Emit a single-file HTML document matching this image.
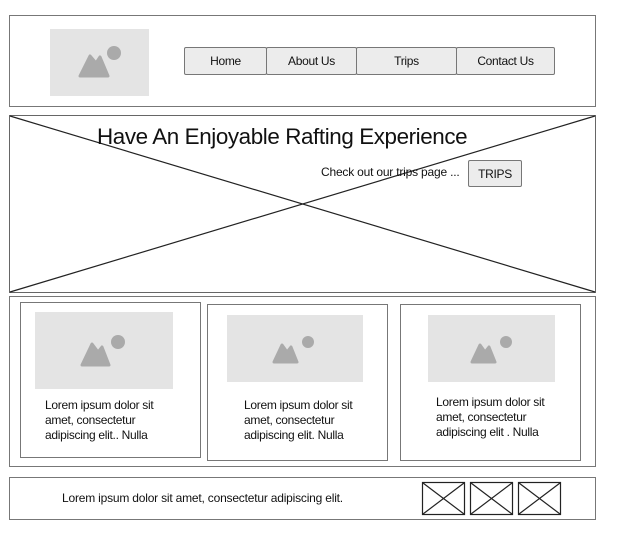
<!DOCTYPE html>
<html><head><meta charset="utf-8"><style>
body{margin:0;width:631px;height:537px;background:#fff;position:relative;overflow:hidden;font-family:"Liberation Sans",Arial,sans-serif;color:#111}
.a{position:absolute;box-sizing:border-box}
.box{border:1px solid #777;background:#fff}
.btn{border:1px solid #777;border-radius:2px;background:#ececec;font-size:12px;text-align:center;line-height:26px;letter-spacing:-0.3px}
.img{background:#e4e4e4}
.t{font-size:12px;line-height:15px;letter-spacing:-0.3px}
</style></head><body>
<div class="a box" style="left:9px;top:15px;width:587px;height:92px"></div>
<div class="a img" style="left:50px;top:29px;width:99px;height:67px">
<svg width="99" height="67" style="position:absolute;left:0;top:0"><path d="M30 47 L40 27 L46 34 L50 28 L58 47 Z" fill="#aaa" stroke="#aaa" stroke-linejoin="round" stroke-width="3"/><circle cx="64" cy="24" r="7" fill="#aaa"/></svg></div>
<div class="a btn" style="left:184px;top:47px;width:83px;height:28px">Home</div>
<div class="a btn" style="left:266px;top:47px;width:91px;height:28px">About Us</div>
<div class="a btn" style="left:356px;top:47px;width:101px;height:28px">Trips</div>
<div class="a btn" style="left:456px;top:47px;width:99px;height:28px">Contact Us</div>

<div class="a box" style="left:9px;top:115px;width:587px;height:178px;border-color:#666"></div>

<div class="a box" style="left:9px;top:296px;width:587px;height:171px"></div>
<div class="a box" style="left:20px;top:302px;width:181px;height:156px"></div>
<div class="a img" style="left:35px;top:312px;width:138px;height:77px"><svg width="138" height="77"><path d="M47 53 L57 32 L63 40 L67 35 L74 53 Z" fill="#aaa" stroke="#aaa" stroke-linejoin="round" stroke-width="3"/><circle cx="83" cy="30" r="7" fill="#aaa"/></svg></div>
<div class="a t" style="left:45px;top:398px">Lorem ipsum dolor sit<br>amet, consectetur<br>adipiscing elit.. Nulla</div>
<div class="a box" style="left:207px;top:304px;width:181px;height:157px"></div>
<div class="a img" style="left:227px;top:315px;width:136px;height:67px"><svg width="136" height="67"><path d="M47 47 L55 30 L60 37 L64 32 L70 47 Z" fill="#aaa" stroke="#aaa" stroke-linejoin="round" stroke-width="3"/><circle cx="81" cy="27" r="6" fill="#aaa"/></svg></div>
<div class="a t" style="left:244px;top:398px">Lorem ipsum dolor sit<br>amet, consectetur<br>adipiscing elit. Nulla</div>
<div class="a box" style="left:400px;top:304px;width:181px;height:157px"></div>
<div class="a img" style="left:428px;top:315px;width:127px;height:67px"><svg width="127" height="67"><path d="M44 47 L52 30 L57 37 L61 32 L67 47 Z" fill="#aaa" stroke="#aaa" stroke-linejoin="round" stroke-width="3"/><circle cx="78" cy="27" r="6" fill="#aaa"/></svg></div>
<div class="a t" style="left:436px;top:395px">Lorem ipsum  dolor sit<br>amet, consectetur<br>adipiscing elit . Nulla</div>

<div class="a box" style="left:9px;top:477px;width:587px;height:43px"></div>
<div class="a t" style="left:62px;top:491px;font-size:12px;letter-spacing:-0.2px;white-space:nowrap">Lorem ipsum dolor sit amet, consectetur adipiscing elit.</div>

<svg class="a" style="left:0;top:0" width="631" height="537"><line x1="10" y1="116" x2="595" y2="292" stroke="#222" stroke-width="1.2"/><line x1="10" y1="292" x2="595" y2="116" stroke="#222" stroke-width="1.2"/>
<g stroke="#222" stroke-width="1.2" fill="none">
<rect x="422.5" y="482.5" width="42" height="32"/><line x1="423" y1="483" x2="464" y2="514"/><line x1="423" y1="514" x2="464" y2="483"/>
<rect x="470.5" y="482.5" width="42" height="32"/><line x1="471" y1="483" x2="512" y2="514"/><line x1="471" y1="514" x2="512" y2="483"/>
<rect x="518.5" y="482.5" width="42" height="32"/><line x1="519" y1="483" x2="560" y2="514"/><line x1="519" y1="514" x2="560" y2="483"/>
</g></svg>
<div class="a" style="left:97px;top:124px;font-size:22.4px;letter-spacing:-0.4px;white-space:nowrap">Have An Enjoyable Rafting Experience</div>
<div class="a t" style="left:321px;top:165px;white-space:nowrap;font-size:12px;letter-spacing:-0.2px">Check out our trips page ...</div>
<div class="a btn" style="left:468px;top:160px;width:54px;height:27px">TRIPS</div>
</body></html>
